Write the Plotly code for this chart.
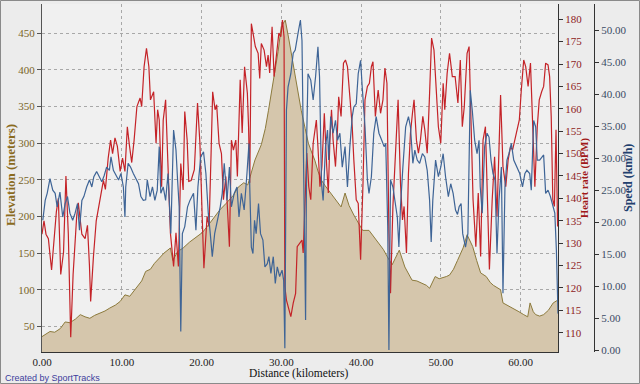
import plotly.graph_objects as go

# ---------------- data ----------------
elev_km = [0.0, 0.5, 1.0, 1.6, 2.3, 2.9, 3.5, 4.2, 4.8, 5.4, 6.0, 6.6, 7.3, 7.9, 8.5, 9.2, 9.8,
           10.4, 11.0, 11.9, 12.5, 13.0, 13.6, 14.1, 14.7, 15.3, 16.1, 16.4, 17.0, 17.7, 18.5,
           19.4, 20.1, 20.7, 21.5, 22.3, 23.1, 24.0, 24.6, 25.3, 25.8, 26.3, 26.7, 27.5, 28.0,
           28.4, 28.8, 29.2, 29.6, 30.0, 30.5, 30.9, 31.3, 31.7, 32.1, 32.5, 33.0, 33.4, 33.8,
           34.2, 34.6, 35.0, 35.5, 35.9, 36.4, 36.8, 37.5, 38.0, 38.5, 39.1, 39.7, 40.2, 41.0,
           41.6, 42.3, 42.8, 43.3, 43.9, 44.3, 44.8, 45.5, 46.0, 46.4, 47.0, 47.7, 48.2, 48.6,
           49.3, 49.8, 50.2, 50.7, 51.1, 51.6, 52.1, 52.8, 53.3, 54.0, 54.5, 55.0, 55.7, 56.2,
           56.6, 57.1, 57.5, 57.8, 58.5, 59.1, 59.8, 60.4, 60.9, 61.2, 61.6, 61.9, 62.4, 62.9,
           63.5, 64.1, 64.7]
elev_m = [36, 40, 43, 42, 47, 56, 55, 60, 66, 63, 61, 65, 68, 71, 75, 79, 84,
          93, 91, 104, 112, 125, 128, 136, 143, 150, 157, 140, 152, 157, 165,
          172, 178, 186, 197, 209, 218, 229, 240, 246, 243, 262, 277, 298, 320,
          345, 370, 396, 425, 459, 468, 445, 420, 400, 370, 345, 320, 300, 288,
          277, 262, 250, 242, 236, 228, 223, 213, 232, 215, 202, 190, 181, 181,
          172, 163, 155, 145, 134, 143, 154, 131, 120, 113, 112, 109, 106, 102,
          118, 115, 116, 118, 120, 128, 140, 157, 175, 159, 140, 123, 118, 110,
          106, 103, 100, 82, 78, 75, 70, 66, 63, 82, 70, 66, 64, 66,
          72, 82, 86]

hr_km = [0.0, 0.25, 0.5, 0.8, 1.2, 1.5, 1.8, 2.05, 2.35, 2.7, 3.0, 3.3, 3.6, 3.9, 4.35, 4.55,
         5.0, 5.4, 5.7, 5.95, 6.1, 6.45, 6.8, 7.2, 7.7, 7.95, 8.3, 8.6, 8.85, 9.15, 9.45, 9.8,
         10.1, 10.4, 10.7, 10.95, 11.25, 11.55, 11.9, 12.3, 12.5, 12.8, 13.1, 13.4, 13.6, 14.0,
         14.3, 14.5, 14.7, 15.0, 15.2, 15.5, 15.8, 16.1, 16.5, 16.8, 17.1, 17.4, 17.7, 17.9,
         18.2, 18.4, 18.7, 19.1, 19.5, 19.8, 20.1, 20.3, 20.7, 20.95, 21.2, 21.4, 21.7, 21.9,
         22.2, 22.5, 22.75, 23.05, 23.5, 23.75, 24.0, 24.3, 24.5, 24.85, 25.1, 25.4, 25.75,
         25.9, 26.05, 26.25, 26.45, 26.75, 27.1, 27.3, 27.5, 27.85, 28.15, 28.35, 28.55, 28.85,
         29.1, 29.4, 29.7, 29.95, 30.15, 30.35, 30.45, 30.65, 30.85, 31.2, 31.5, 31.8, 32.0,
         32.3, 32.6, 32.75, 33.2, 33.45, 33.7, 34.0, 34.2, 34.4, 34.6, 34.85, 35.1, 35.4, 35.7,
         35.9, 36.1, 36.3, 36.5, 36.8, 37.05, 37.2, 37.5, 37.8, 38.05, 38.3, 38.6, 38.9, 39.1,
         39.4, 39.65, 39.95, 40.25, 40.5, 40.8, 41.05, 41.3, 41.5, 41.8, 42.15, 42.45, 42.75,
         43.0, 43.25, 43.5, 43.7, 44.0, 44.35, 44.65, 44.95, 45.2, 45.4, 45.7, 45.95, 46.2,
         46.45, 46.65, 46.95, 47.2, 47.45, 47.75, 48.0, 48.3, 48.6, 48.85, 49.15, 49.45, 49.7,
         50.0, 50.3, 50.5, 50.8, 51.1, 51.45, 51.8, 52.15, 52.45, 52.7, 52.95, 53.3, 53.55,
         53.85, 54.05, 54.4, 54.7, 55.0, 55.3, 55.6, 55.9, 56.1, 56.45, 56.75, 57.05, 57.3,
         57.5, 57.8, 58.15, 58.45, 58.75, 59.0, 59.3, 59.5, 59.85, 60.1, 60.4, 60.65, 60.95,
         61.25, 61.5, 61.8, 62.1, 62.35, 62.65, 62.9, 63.15, 63.45, 63.65, 63.85, 64.05, 64.25,
         64.45, 64.65]
hr_bpm = [132, 135, 132, 131, 124, 130, 137, 140, 123, 128, 145, 132, 109, 123, 136, 139,
          132, 131, 134, 125, 117, 127, 135, 139, 144, 142, 149, 153, 150, 153.5, 151.6, 146,
          149, 146, 156, 152, 148, 153, 160.5, 162.4, 160.5, 169.4, 173.5, 169.4, 162, 163.8,
          152.3, 159.8, 157.5, 142.6, 157.5, 162, 147, 132.3, 124.8, 132.3, 124.8, 147.8, 141.9, 159.4,
          153, 143.8, 144, 146.4, 161.3, 152.3, 135.2, 124.4, 136, 133.7, 150, 163.8, 159.8, 160.9,
          152.3, 150, 139.7, 144.9, 129.2, 153, 150.8, 153, 144.9, 166.5, 154.6, 169.4, 163.5,
          156, 143.5, 179, 177, 173.9, 172.4, 166.8, 174.6, 173.1, 169.4, 172, 168, 178.3,
          167.2, 172.8, 176.9, 176.1, 179.8, 176.1, 120.3, 117.3, 115.8, 113.6, 116.6, 118.8, 129.2,
          130, 130.7, 127.8, 150.1, 142.6, 139.7, 152.3, 154.6, 157.5, 151.6, 142.6, 147.1, 159, 147.1,
          141.2, 153, 159.8, 153, 147.1, 155.3, 162.7, 158.3, 170.2, 170.9, 169.4, 162.7, 156, 148.6,
          139.7, 138.9, 126.3, 143.4, 162, 165, 165.7, 169.4, 170.5, 158.3, 164.2, 159, 162,
          169.1, 165.7, 132.2, 118.8, 138.2, 153, 162, 143.4, 135.2, 138.2, 127.8, 145.6, 154.6,
          159, 162, 153, 150.1, 153, 158.3, 155.3, 150.1, 163.5, 175.8, 173.1, 162, 156,
          152.3, 165.7, 159.8, 167.9, 172.4, 167.2, 167.2, 161.3, 170.9, 156, 160.5, 172.4, 173.9,
          154.6, 139.7, 129.2, 141.2, 127, 153, 156, 138.9, 124.1, 139.7, 149.3, 135.9, 150.8,
          163.1, 147.1, 142.6, 148.6, 151.6, 150.8, 153, 154.6, 157.5, 164.2, 170.9, 169.4, 165,
          170.2, 156, 142.6, 156, 162, 163.8, 165, 170.2, 169.8, 167.2, 158.3, 139.7, 138.2,
          155.3, 133.7]

spd_km = [0.1, 0.4, 0.65, 1.0, 1.35, 1.65, 1.9, 2.25, 2.6, 2.9, 3.2, 3.5, 3.85, 4.15, 4.45, 4.7,
          5.0, 5.25, 5.6, 5.95, 6.25, 6.5, 6.85, 7.2, 7.5, 7.8, 8.1, 8.45, 8.65, 8.95, 9.3, 9.6,
          9.9, 10.2, 10.4, 10.5, 10.8, 11.1, 11.45, 11.8, 12.1, 12.4, 12.7, 13.0, 13.2, 13.55,
          13.85, 14.15, 14.45, 14.7, 14.9, 15.2, 15.5, 15.8, 16.15, 16.5, 16.8, 17.0, 17.2, 17.4,
          17.6, 17.9, 18.25, 18.55, 19.0, 19.3, 19.55, 19.9, 20.25, 20.55, 20.85, 21.1, 21.35,
          21.65, 22.0, 22.35, 22.6, 22.85, 23.2, 23.5, 23.75, 24.1, 24.45, 24.7, 25.0, 25.35,
          25.7, 25.95, 26.05, 26.25, 26.45, 26.65, 26.85, 27.15, 27.4, 27.7, 27.95, 28.25, 28.45,
          28.7, 29.0, 29.25, 29.5, 29.8, 30.1, 30.3, 30.45, 30.65, 30.85, 31.2, 31.5, 31.75, 32.1,
          32.4, 32.6, 32.85, 33.05, 33.2, 33.35, 33.7, 34.0, 34.3, 34.6, 34.8, 35.05, 35.25, 35.55,
          35.8, 35.95, 36.2, 36.5, 36.8, 37.05, 37.35, 37.65, 38.0, 38.3, 38.6, 38.9, 39.1, 39.4,
          39.65, 39.95, 40.15, 40.5, 40.8, 41.0, 41.3, 41.6, 41.9, 42.25, 42.6, 42.9, 43.1, 43.35,
          43.5, 43.7, 44.0, 44.25, 44.55, 44.75, 44.95, 45.25, 45.6, 45.95, 46.2, 46.5, 46.75,
          47.05, 47.35, 47.7, 48.0, 48.3, 48.6, 48.8, 49.0, 49.35, 49.7, 50.0, 50.3, 50.6, 50.95,
          51.25, 51.55, 51.85, 52.1, 52.3, 52.55, 52.75, 53.1, 53.4, 53.7, 53.95, 54.25, 54.55,
          54.8, 54.95, 55.2, 55.5, 55.8, 56.05, 56.3, 56.55, 56.8, 57.05, 57.3, 57.6, 57.8, 58.05,
          58.3, 58.55, 58.85, 59.15, 59.5, 59.9, 60.25, 60.55, 60.8, 61.15, 61.35, 61.65, 61.9,
          62.1, 62.4, 62.75, 62.9, 63.15, 63.45, 63.75, 64.0, 64.3, 64.5, 64.65, 64.7]
spd_kmh = [20.3, 23.4, 24.5, 26.8, 25, 24.5, 22.4, 24.7, 20.8, 22.9, 24, 21.4, 20.3, 21.4, 22.9, 18.75,
           23.4, 24, 25.5, 26.6, 25.5, 27.1, 27.9, 27.1, 26.3, 27.3, 28.6, 28.1, 30.2, 28.1, 27.3, 26.6,
           27.6, 25.5, 20.8, 25.5, 29.2, 28.6, 27.6, 26.6, 26, 24, 23.4, 23.5, 26.6, 24,
           25.5, 23.4, 25, 31.8, 24.5, 25.5, 23.4, 27.6, 18.2, 34.4, 31.25, 26.6, 22.4, 2.9,
           18.2, 19.3, 22.4, 23.4, 24.5, 18.75, 25.5, 30.2, 31, 27.6, 21.4, 18.2, 14.6,
           18.2, 20.3, 22.4, 24.5, 29.2, 23.4, 28.6, 22.4, 24.5, 25.5, 20.8, 24.5, 21.9,
           27.6, 32.3, 25.5, 16.1, 15.1, 20.3, 18.2, 22.9, 18.2, 17.2, 13, 13.5, 14.6,
           12, 14.6, 10.4, 13, 11.5, 12.5, 10.9, 0.3, 37.5, 41.1, 43.2, 46.4, 46.9, 49.5,
           51.6, 48.4, 23.4, 4.7, 33.9, 43.2, 42.2, 39.1, 42.7, 47.4, 42.7, 26, 23.4, 31.8,
           34.4, 29.7, 36.5, 33.9, 35.9, 32.8, 33.9, 28.6, 31.8, 25.5, 31.8, 36.5, 38, 38.5,
           43.2, 45.3, 41.1, 34.9, 26.6, 24.5, 27.1, 33.9, 36.5, 33.9, 32.8, 31.8, 32.3, 19.3,
           0, 26.6, 25.5, 23.4, 20.8, 16.1, 22.4, 28.6, 34.9, 36.5, 34.9, 29.2, 31.25,
           29.7, 29.2, 30.7, 30.2, 28.1, 23.4, 16.9, 23.4, 29.7, 27.1, 28.6, 30.7, 27.1, 24,
           26, 24.5, 21.9, 21.2, 22.4, 22.9, 18.2, 16.1, 18.2, 40.6, 37.5, 32.8, 30.7,
           32.8, 25.5, 21.4, 31.8, 33.9, 33.3, 29.7, 27.6, 26.6, 15.1, 23.4, 28.6, 8.9, 25.5,
           29.7, 30.7, 32.3, 29.7, 28.6, 27.6, 25.5, 27.6, 28.1, 27.6, 25, 35.9, 34.9,
           29.7, 29.7, 30.2, 30.5, 24.5, 25, 24, 22.9, 21.4, 15.6, 7.8, 5.7]

x_ticks = [0, 10, 20, 30, 40, 50, 60]
elev_ticks = [50, 100, 150, 200, 250, 300, 350, 400, 450]
hr_ticks = [110, 115, 120, 125, 130, 135, 140, 145, 150, 155, 160, 165, 170, 175, 180]
spd_ticks = [0, 5, 10, 15, 20, 25, 30, 35, 40, 45, 50]

# ---------------- figure ----------------
SERIF = "Liberation Serif, Times New Roman, serif"
ELEV_COL = "#8A6B1E"
HR_COL = "#8E1C1C"
SPD_COL = "#22406E"

fig = go.Figure()
fig.add_trace(go.Scatter(x=elev_km, y=elev_m, mode="lines", fill="tozeroy",
                         fillcolor="#D5C6AC", line=dict(color="#8C7A3C", width=1),
                         yaxis="y", hoverinfo="skip"))
fig.add_trace(go.Scatter(x=hr_km, y=hr_bpm, mode="lines",
                         line=dict(color="#C42328", width=1.2), yaxis="y2"))
fig.add_trace(go.Scatter(x=spd_km, y=spd_kmh, mode="lines",
                         line=dict(color="#3E6496", width=1.2), yaxis="y3"))

W, H = 640, 384
ML, MR, MT, MB = 42, 40, 4, 32
paper_w = W - ML - MR
paper_h = H - MT - MB
dom_end = (558 - ML) / paper_w
spd_pos = (594 - ML) / paper_w


def px(xp):
    return (xp - ML) / paper_w


def py(yp):
    return (H - MB - yp) / paper_h


fig.update_layout(
    width=W, height=H,
    margin=dict(l=ML, r=MR, t=MT, b=MB, pad=0),
    paper_bgcolor="#ECECEC", plot_bgcolor="#F0F0F0",
    showlegend=False,
    font=dict(family=SERIF, size=11, color="#222"),
    xaxis=dict(domain=[0, dom_end], range=[0, 64.7], tickvals=x_ticks,
               ticktext=[f"{v:.2f}" for v in x_ticks], automargin=False,
               showgrid=True, gridcolor="#A8A8A8", griddash="dot", gridwidth=1,
               showline=True, linecolor="#333", linewidth=1, ticks="",
               zeroline=False,
               tickfont=dict(family=SERIF, size=11, color="#222")),
    yaxis=dict(range=[15, 490], tickvals=elev_ticks, showgrid=True, gridcolor="#A8A8A8",
               griddash="dot", zeroline=False, showline=True, linecolor="#555",
               ticks="outside", ticklen=4, tickcolor="#555", automargin=False,
               tickfont=dict(family=SERIF, size=11, color="#7A6428")),
    yaxis2=dict(range=[105.7, 183.4], tickvals=hr_ticks, overlaying="y", side="right",
                anchor="x", showgrid=False, zeroline=False, showline=True, linecolor="#333",
                ticks="outside", ticklen=4, tickcolor="#333", automargin=False,
                tickfont=dict(family=SERIF, size=11, color=HR_COL)),
    yaxis3=dict(range=[-0.3, 54.1], tickvals=spd_ticks,
                ticktext=[f"{v:.2f}" for v in spd_ticks], overlaying="y", side="right",
                anchor="free", position=spd_pos, showgrid=False, zeroline=False,
                showline=True, linecolor="#333", ticks="outside", ticklen=4, tickcolor="#333",
                automargin=False,
                tickfont=dict(family=SERIF, size=11, color="#3A4A64")),
)

# axis titles placed as annotations
fig.add_annotation(text="Distance (kilometers)", xref="paper", yref="paper",
                   x=px(298), y=py(373), xanchor="center", yanchor="middle", showarrow=False,
                   font=dict(family=SERIF, size=11.5, color="#111"))
fig.add_annotation(text="<b>Elevation (meters)</b>", xref="paper", yref="paper",
                   x=px(10), y=py(175), xanchor="center", yanchor="middle", showarrow=False,
                   textangle=-90, font=dict(family=SERIF, size=13, color=ELEV_COL))
fig.add_annotation(text="<b>Heart rate (BPM)</b>", xref="paper", yref="paper",
                   x=px(585), y=py(178), xanchor="center", yanchor="middle", showarrow=False,
                   textangle=-90, font=dict(family=SERIF, size=10.5, color="#A01818"))
fig.add_annotation(text="<b>Speed (km/h)</b>", xref="paper", yref="paper",
                   x=px(628), y=py(178), xanchor="center", yanchor="middle", showarrow=False,
                   textangle=-90, font=dict(family=SERIF, size=12, color=SPD_COL))

fig.add_annotation(text="Created by SportTracks", xref="paper", yref="paper",
                   x=px(3), y=py(378), xanchor="left", yanchor="middle", showarrow=False,
                   font=dict(family="Liberation Sans, Arial, sans-serif", size=9, color="#3C3C9C"))

# outer frame of the image
fig.add_shape(type="rect", xref="paper", yref="paper",
              x0=px(0.5), x1=px(W - 0.5), y0=py(H - 0.5), y1=py(0.5),
              line=dict(color="#8A8A8A", width=1), layer="above")

fig.write_html("out.html", config={"displayModeBar": False},
               post_script="document.body.style.margin='0';document.body.style.overflow='hidden';")
